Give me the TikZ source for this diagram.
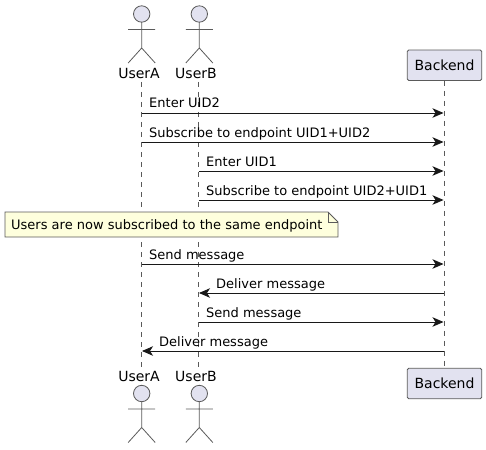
\documentclass[tikz,border=0pt]{standalone}
\usepackage{fontspec}
\setmainfont{DejaVu Sans}
\usetikzlibrary{arrows.meta}
\definecolor{partfill}{HTML}{E2E2F0}
\definecolor{partline}{HTML}{5A5A5A}
\definecolor{notefill}{HTML}{FEFFDD}
\definecolor{inkdark}{HTML}{181818}
\tikzset{
  actor/.pic={
    \draw[partline,fill=partfill,line width=0.8pt] (0,0) circle (8.2);
    \draw[partline,line width=0.8pt] (0,8.2) -- (0,34) (-13.5,15.5) -- (13.5,15.5)
      (-13.5,49) -- (0,34) -- (13.5,49);
  },
  partbox/.style={draw=partline,fill=partfill,rounded corners=1.5pt,line width=0.8pt,
    minimum width=74.5pt,minimum height=30.5pt,inner sep=0pt,font=\fontsize{14}{16}\selectfont},
  partname/.style={inner sep=0pt,text=black,font=\fontsize{14}{16}\selectfont},
  lifeline/.style={partline,line width=0.7pt,dash pattern=on 5pt off 5pt},
  msgline/.style={inkdark,line width=0.9pt,-{Stealth[length=11pt,width=9.5pt,inset=3pt]}},
  msgtext/.style={inner sep=0pt,anchor=base west,text=black},
}
\begin{document}
\begin{tikzpicture}[x=1pt,y=-1pt,font=\fontsize{13}{15}\selectfont]
\useasboundingbox (0,0) rectangle (486,449);
% participants
\node[partname] (userAtop) at (139,73) {UserA};
\node[partname] (userBtop) at (196,73) {UserB};
\node[partbox] (backendtop) at (444.5,65.3) {Backend};
\node[partname] (userAbot) at (139,376) {UserA};
\node[partname] (userBbot) at (196,376) {UserB};
\node[partbox] (backendbot) at (444.5,383.5) {Backend};
\pic at (141.7,14) {actor};
\pic at (199.3,14) {actor};
\pic at (141.7,393.5) {actor};
\pic at (199.3,393.5) {actor};
% lifelines
\coordinate (atop) at (141.5,82); \coordinate (abot) at (141.5,367);
\coordinate (btop) at (198.5,82); \coordinate (bbot) at (198.5,367);
\draw[lifeline] (atop) -- (abot);
\draw[lifeline] (btop) -- (bbot);
\draw[lifeline] (backendtop) -- (backendbot);
% message ends
\coordinate (a1) at (141.5,113); \coordinate (k1) at (443.5,113);
\coordinate (a2) at (141.5,142); \coordinate (k2) at (443.5,142);
\coordinate (b3) at (198.5,171); \coordinate (k3) at (443.5,171);
\coordinate (b4) at (198.5,200); \coordinate (k4) at (443.5,200);
\coordinate (a5) at (141.5,264); \coordinate (k5) at (443.5,264);
\coordinate (b6) at (199,293); \coordinate (k6) at (444,293);
\coordinate (b7) at (198.5,322); \coordinate (k7) at (443.5,322);
\coordinate (a8) at (142,351); \coordinate (k8) at (444,351);
% messages
\draw[msgline] (a1) -- (k1);
\node[msgtext] (enteruidb) at (149,108) {Enter UID2};
\draw[msgline] (a2) -- (k2);
\node[msgtext] (subscribea) at (149,137) {Subscribe to endpoint UID1+UID2};
\draw[msgline] (b3) -- (k3);
\node[msgtext] (enteruida) at (206,166) {Enter UID1};
\draw[msgline] (b4) -- (k4);
\node[msgtext] (subscribeb) at (206,195) {Subscribe to endpoint UID2+UID1};
\draw[msgline] (a5) -- (k5);
\node[msgtext] (senda) at (149,259) {Send message};
\draw[msgline] (k6) -- (b6);
\node[msgtext] (deliverb) at (216,288) {Deliver message};
\draw[msgline] (b7) -- (k7);
\node[msgtext] (sendb) at (206,317) {Send message};
\draw[msgline] (k8) -- (a8);
\node[msgtext] (delivera) at (159,346) {Deliver message};
% note
\draw[partline,fill=notefill,line width=0.8pt] (5,212) -- (328,212) -- (338,222) -- (338,237) -- (5,237) -- cycle;
\draw[partline,line width=0.8pt] (328,212) -- (328,222) -- (338,222);
\node[msgtext] (samenote) at (11,229) {Users are now subscribed to the same endpoint};
\end{tikzpicture}
\end{document}
